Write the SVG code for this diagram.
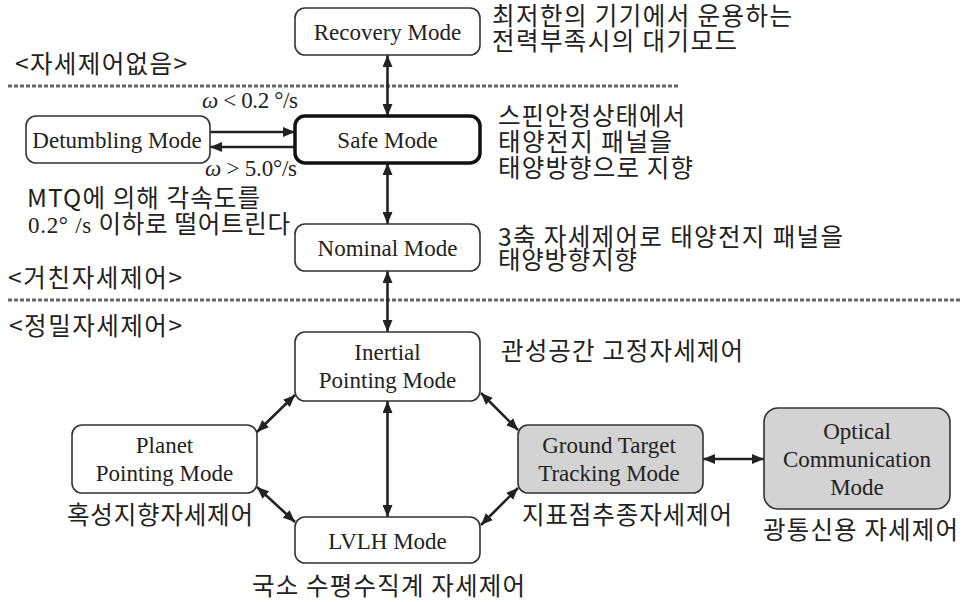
<svg xmlns="http://www.w3.org/2000/svg" width="961" height="602" viewBox="0 0 961 602">
<defs>
<style>
.box{fill:#fff;stroke:#333;stroke-width:1.6}
.gray{fill:#d3d3d3}
.thick{stroke:#111;stroke-width:3.5}
.en{font-family:"Liberation Serif","Times New Roman",serif;font-size:23px;fill:#222;text-anchor:middle}
.ser{font-family:"Liberation Serif","Times New Roman",serif;font-size:23px;fill:#222}
.ko{font-family:"Noto Sans CJK KR","Noto Sans",sans-serif;font-size:24.5px;fill:#222}
.con{stroke:#222;stroke-width:2.6;fill:none;marker-end:url(#ah);marker-start:url(#ah)}
.one{stroke:#222;stroke-width:2.6;fill:none;marker-end:url(#ah)}
.dash{stroke:#666;stroke-width:3;stroke-dasharray:4 2;fill:none}
</style>
<marker id="ah" viewBox="0 0 12 10" refX="12" refY="5" markerWidth="12" markerHeight="10" markerUnits="userSpaceOnUse" orient="auto-start-reverse">
<path d="M0,0 L12,5 L0,10 z" fill="#222"/>
</marker>
</defs>
<rect width="961" height="602" fill="#fff"/>

<g id="separators">
<line class="dash" x1="8" y1="86" x2="680" y2="86"/>
<line class="dash" x1="8" y1="300" x2="961" y2="300"/>
</g>

<g id="connectors">
<line class="con" x1="387.5" y1="55" x2="387.5" y2="116"/>
<line class="con" x1="387.5" y1="163" x2="387.5" y2="224"/>
<line class="con" x1="387.5" y1="271" x2="387.5" y2="332"/>
<line class="con" x1="387.5" y1="401" x2="387.5" y2="517"/>
<line class="one" x1="210" y1="132" x2="295" y2="132"/>
<line class="one" x1="295" y1="147" x2="210" y2="147"/>
<line class="con" x1="295" y1="395" x2="257" y2="432"/>
<line class="con" x1="257" y1="487" x2="295" y2="522"/>
<line class="con" x1="481" y1="393" x2="518" y2="430"/>
<line class="con" x1="518" y1="488" x2="481" y2="525"/>
<line class="con" x1="703" y1="459" x2="764" y2="459"/>
</g>

<g id="recovery">
<rect class="box" x="295" y="8" width="185" height="47" rx="10"/>
<text class="en" x="387.5" y="40">Recovery Mode</text>
</g>
<g id="safe">
<rect class="box thick" x="295" y="116" width="185" height="47" rx="10"/>
<text class="en" x="387.5" y="148">Safe Mode</text>
</g>
<g id="detumbling">
<rect class="box" x="26" y="116" width="184" height="47" rx="10"/>
<text class="en" x="117" y="148">Detumbling Mode</text>
</g>
<g id="nominal">
<rect class="box" x="295" y="224" width="185" height="47" rx="10"/>
<text class="en" x="387.5" y="256">Nominal Mode</text>
</g>
<g id="inertial">
<rect class="box" x="295" y="332" width="185" height="69" rx="10"/>
<text class="en" x="387.5" y="360">Inertial</text>
<text class="en" x="387.5" y="388">Pointing Mode</text>
</g>
<g id="planet">
<rect class="box" x="72" y="425" width="185" height="68" rx="10"/>
<text class="en" x="164.5" y="453">Planet</text>
<text class="en" x="164.5" y="481">Pointing Mode</text>
</g>
<g id="lvlh">
<rect class="box" x="295" y="517" width="185" height="46" rx="10"/>
<text class="en" x="387.5" y="549">LVLH Mode</text>
</g>
<g id="ground">
<rect class="box gray" x="518" y="425" width="185" height="68" rx="10"/>
<text class="en" x="609" y="453">Ground Target</text>
<text class="en" x="609" y="481">Tracking Mode</text>
</g>
<g id="optical">
<rect class="box gray" x="764" y="408" width="186" height="101" rx="14"/>
<text class="en" x="857" y="439">Optical</text>
<text class="en" x="857" y="467">Communication</text>
<text class="en" x="857" y="495">Mode</text>
</g>

<g id="labels">
<text class="ser" x="202" y="108" textLength="96" lengthAdjust="spacing"><tspan font-style="italic">ω</tspan> &lt; 0.2 °/s</text>
<text class="ser" x="205" y="176" textLength="92" lengthAdjust="spacing"><tspan font-style="italic">ω</tspan> &gt; 5.0°/s</text>
<text class="ko" x="492" y="25" textLength="300" lengthAdjust="spacing">최저한의 기기에서 운용하는</text>
<text class="ko" x="492" y="50" textLength="245" lengthAdjust="spacing">전력부족시의 대기모드</text>
<text class="ko" x="15" y="73" textLength="172" lengthAdjust="spacing">&lt;자세제어없음&gt;</text>
<text class="ko" x="498" y="125" textLength="187" lengthAdjust="spacing">스핀안정상태에서</text>
<text class="ko" x="498" y="151" textLength="174" lengthAdjust="spacing">태양전지 패널을</text>
<text class="ko" x="498" y="177" textLength="195" lengthAdjust="spacing">태양방향으로 지향</text>
<text class="ko" x="27" y="207" textLength="233" lengthAdjust="spacing">MTQ에 의해 각속도를</text>
<text class="ko" x="28" y="233" textLength="262" lengthAdjust="spacing"><tspan class="ser">0.2° /s </tspan>이하로 떨어트린다</text>
<text class="ko" x="8" y="287" textLength="174" lengthAdjust="spacing">&lt;거친자세제어&gt;</text>
<text class="ko" x="498" y="246" textLength="345" lengthAdjust="spacing">3축 자세제어로 태양전지 패널을</text>
<text class="ko" x="498" y="269" textLength="139" lengthAdjust="spacing">태양방향지향</text>
<text class="ko" x="9" y="335" textLength="173" lengthAdjust="spacing">&lt;정밀자세제어&gt;</text>
<text class="ko" x="501" y="360" textLength="242" lengthAdjust="spacing">관성공간 고정자세제어</text>
<text class="ko" x="67" y="524" textLength="186" lengthAdjust="spacing">혹성지향자세제어</text>
<text class="ko" x="522" y="524" textLength="210" lengthAdjust="spacing">지표점추종자세제어</text>
<text class="ko" x="763" y="539" textLength="195" lengthAdjust="spacing">광통신용 자세제어</text>
<text class="ko" x="252" y="595" textLength="273" lengthAdjust="spacing">국소 수평수직계 자세제어</text>
</g>
</svg>
